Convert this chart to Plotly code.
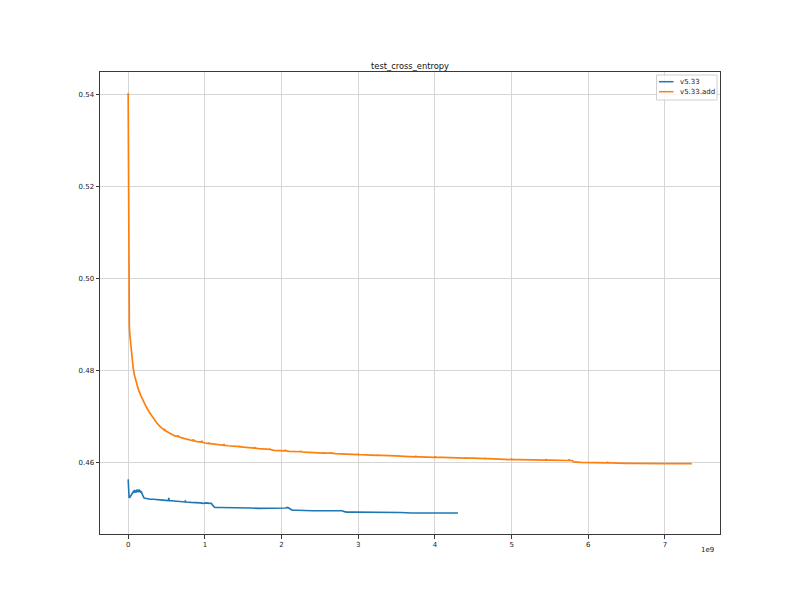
import plotly.graph_objects as go

# x values are in units of 1e9 (matplotlib offset text "1e9")
blue_name = "v5.33"
blue_x = [0.000, 0.004, 0.012, 0.025, 0.040, 0.055, 0.065, 0.075, 0.082, 0.090, 0.098, 0.105,
          0.112, 0.120, 0.128, 0.135, 0.142, 0.150, 0.158, 0.165, 0.172, 0.180, 0.188, 0.196,
          0.205, 0.220, 0.250, 0.290, 0.330, 0.370, 0.410, 0.450, 0.525, 0.530, 0.535,
          0.580, 0.620, 0.660, 0.700, 0.740, 0.745, 0.750, 0.820, 0.860, 0.900, 0.940, 0.980, 1.020,
          1.060, 1.085, 1.100, 1.115, 1.130, 1.200, 1.300, 1.400, 1.500, 1.600, 1.700, 1.800,
          1.900, 2.000, 2.050, 2.080, 2.100, 2.120, 2.140, 2.200, 2.300, 2.400, 2.500, 2.600,
          2.700, 2.790, 2.820, 2.850, 2.950, 3.100, 3.250, 3.400, 3.550, 3.700, 3.850, 4.000,
          4.150, 4.300]
blue_y = [0.4564, 0.4527, 0.4524, 0.4526, 0.4530, 0.4534, 0.4537, 0.4535, 0.4541, 0.4536, 0.4540, 0.4535,
          0.4542, 0.4537, 0.4541, 0.4536, 0.4542, 0.4537, 0.4540, 0.4535, 0.4538, 0.4533, 0.4529, 0.4526,
          0.4524, 0.4523, 0.4522, 0.4521, 0.4521, 0.4520, 0.4520, 0.4519, 0.4518, 0.4524, 0.4518,
          0.4517, 0.4517, 0.4516, 0.4515, 0.4515, 0.4518, 0.4515, 0.4514, 0.4514, 0.4513, 0.4513, 0.4512, 0.4513,
          0.4512, 0.4512, 0.4508, 0.4504, 0.4503, 0.4503, 0.4503, 0.4502, 0.4502, 0.4502, 0.4501, 0.4501,
          0.4501, 0.4501, 0.4502, 0.4503, 0.4501, 0.4498, 0.4497, 0.4497, 0.4496, 0.4496, 0.4496, 0.4496,
          0.4496, 0.4496, 0.4494, 0.4493, 0.4493, 0.4493, 0.4492, 0.4492, 0.4492, 0.4491, 0.4491, 0.4491,
          0.4491, 0.4491]

orange_name = "v5.33.add"
orange_x = [0.000, 0.002, 0.004, 0.006, 0.008, 0.010, 0.015, 0.022, 0.035, 0.050, 0.065, 0.080,
            0.100, 0.130, 0.165, 0.200, 0.240, 0.283, 0.330, 0.371, 0.420, 0.470, 0.475, 0.480,
            0.544, 0.600, 0.645, 0.650, 0.655, 0.700, 0.762, 0.800, 0.845, 0.850, 0.855, 0.900,
            0.955, 0.960, 0.965, 1.000, 1.045, 1.050, 1.055, 1.100, 1.200, 1.245, 1.250, 1.255,
            1.300, 1.400, 1.445, 1.450, 1.455, 1.500, 1.600, 1.645, 1.650, 1.655, 1.700, 1.800,
            1.845, 1.850, 1.855, 1.900, 2.000, 2.045, 2.050, 2.055, 2.100, 2.200, 2.245, 2.250,
            2.255, 2.300, 2.400, 2.500, 2.545, 2.550, 2.555, 2.600, 2.645, 2.650, 2.655, 2.700,
            2.800, 2.900, 2.995, 3.000, 3.005, 3.100, 3.200, 3.245, 3.250, 3.255, 3.300, 3.400,
            3.500, 3.600, 3.700, 3.745, 3.750, 3.755, 3.800, 3.900, 3.995, 4.000, 4.005, 4.100,
            4.200, 4.300, 4.395, 4.400, 4.405, 4.500, 4.600, 4.645, 4.650, 4.655, 4.700, 4.800,
            4.900, 4.995, 5.000, 5.005, 5.100, 5.200, 5.300, 5.400, 5.445, 5.450, 5.455, 5.500,
            5.600, 5.700, 5.745, 5.750, 5.755, 5.790, 5.810, 5.900, 6.000, 6.100, 6.200, 6.245,
            6.250, 6.255, 6.300, 6.400, 6.500, 6.600, 6.645, 6.650, 6.655, 6.700, 6.800, 6.900,
            7.000, 7.100, 7.200, 7.300, 7.350]
orange_y = [0.5403, 0.5250, 0.5100, 0.5000, 0.4950, 0.4922, 0.4897, 0.4877, 0.4852, 0.4826, 0.4806, 0.4791,
            0.4777, 0.4761, 0.4746, 0.4733, 0.4720, 0.4708, 0.4696, 0.4687, 0.4678, 0.4671, 0.4674, 0.4670,
            0.4664, 0.4659, 0.4657, 0.4660, 0.4657, 0.4654, 0.4651, 0.4649, 0.4648, 0.4651, 0.4648, 0.4646,
            0.4645, 0.4648, 0.4645, 0.4643, 0.4642, 0.4644, 0.4642, 0.4641, 0.4639, 0.4638, 0.4641, 0.4638,
            0.4637, 0.4635, 0.4635, 0.4637, 0.4635, 0.4634, 0.4632, 0.4632, 0.4634, 0.4632, 0.4631, 0.4629,
            0.4629, 0.4631, 0.4629, 0.4627, 0.4626, 0.4626, 0.4628, 0.4626, 0.4625, 0.4624, 0.4624, 0.4626,
            0.4624, 0.4623, 0.4622, 0.4622, 0.4621, 0.4623, 0.4621, 0.4621, 0.4621, 0.4623, 0.4621, 0.4620,
            0.4619, 0.4619, 0.4618, 0.4620, 0.4618, 0.4617, 0.4617, 0.4616, 0.4618, 0.4616, 0.4616, 0.4616,
            0.4615, 0.4614, 0.4614, 0.4613, 0.4615, 0.4613, 0.4613, 0.4613, 0.4612, 0.4614, 0.4612, 0.4612,
            0.4611, 0.4611, 0.4610, 0.4612, 0.4610, 0.4610, 0.4609, 0.4609, 0.4611, 0.4609, 0.4609, 0.4608,
            0.4608, 0.4607, 0.4609, 0.4607, 0.4607, 0.4607, 0.4606, 0.4606, 0.4606, 0.4608, 0.4606, 0.4606,
            0.4606, 0.4605, 0.4605, 0.4608, 0.4605, 0.4605, 0.4602, 0.4601, 0.4601, 0.4600, 0.4600, 0.4600,
            0.4602, 0.4600, 0.4600, 0.4599, 0.45988, 0.45987, 0.45987, 0.46000, 0.45987, 0.45986, 0.45985, 0.45984,
            0.45984, 0.45983, 0.45983, 0.45982, 0.45982]

x_ticks = [0, 1, 2, 3, 4, 5, 6, 7]
y_ticks = [0.46, 0.48, 0.50, 0.52, 0.54]
title_text = "test_cross_entropy"
offset_text = "1e9"

FONT = "DejaVu Sans, Liberation Sans, sans-serif"
AXIS_COLOR = "#3a3a3a"
GRID_COLOR = "#d6d6d6"
BLUE = "#1f77b4"
ORANGE = "#ff7f0e"

fig = go.Figure()
fig.add_trace(go.Scatter(x=blue_x, y=blue_y, mode="lines", name=blue_name,
                         line=dict(color=BLUE, width=1.6), showlegend=False))
fig.add_trace(go.Scatter(x=orange_x, y=orange_y, mode="lines", name=orange_name,
                         line=dict(color=ORANGE, width=1.7), showlegend=False))

x_lo, x_hi = 0.0, 7.35
x_pad = (x_hi - x_lo) * 0.05
y_lo, y_hi = 0.4491, 0.5403
y_pad = (y_hi - y_lo) * 0.05

axis_common = dict(
    showline=True, linecolor=AXIS_COLOR, linewidth=1, mirror=True,
    showgrid=True, gridcolor=GRID_COLOR, gridwidth=1,
    ticks="outside", ticklen=3.5, tickwidth=1, tickcolor=AXIS_COLOR,
    zeroline=False, tickfont=dict(family=FONT, size=7, color="#222"),
)

fig.update_xaxes(range=[x_lo - x_pad, x_hi + x_pad], tickvals=x_ticks,
                 ticktext=[str(v) for v in x_ticks], **axis_common)
fig.update_yaxes(range=[y_lo - y_pad, y_hi + y_pad], tickvals=y_ticks,
                 tickformat=".2f", **axis_common)

# page has an 8px body margin; plot area in page pixels: x 100-720, y 72-534
ML, MR, MT, MB = 92, 88, 64, 74
fig.update_layout(
    width=800, height=600,
    margin=dict(l=ML, r=MR, t=MT, b=MB),
    paper_bgcolor="white", plot_bgcolor="white",
    font=dict(family=FONT, color="#222"),
    title=dict(text=title_text, x=0.5025, xanchor="center", y=1 - 58 / 600, yanchor="middle",
               font=dict(family=FONT, size=8.3, color="#111")),
    showlegend=False,
)

# matplotlib-style legend box (upper right)
pw, ph = 800 - ML - MR, 600 - MT - MB
def px_x(p):
    return (p - 8 - ML) / pw
def px_y(p):
    return (600 - MB - (p - 8)) / ph

fig.add_shape(type="rect", xref="paper", yref="paper",
              x0=px_x(656.5), x1=px_x(717), y0=px_y(100), y1=px_y(75),
              line=dict(color="#d0d0d0", width=1), fillcolor="rgba(255,255,255,0.8)", layer="above")
for name, color, row_y in [(blue_name, BLUE, 81.7), (orange_name, ORANGE, 91.7)]:
    fig.add_shape(type="line", xref="paper", yref="paper",
                  x0=px_x(659), x1=px_x(673.5), y0=px_y(row_y), y1=px_y(row_y),
                  line=dict(color=color, width=1.5), layer="above")
    fig.add_annotation(text=name, xref="paper", yref="paper", x=px_x(678), y=px_y(row_y),
                       xanchor="left", yanchor="middle", showarrow=False,
                       font=dict(family=FONT, size=7, color="#222"))

fig.add_annotation(text=offset_text, xref="paper", yref="paper", x=px_x(716), y=px_y(550),
                   xanchor="right", yanchor="middle", showarrow=False,
                   font=dict(family=FONT, size=7, color="#222"))

fig.write_html("out.html")
